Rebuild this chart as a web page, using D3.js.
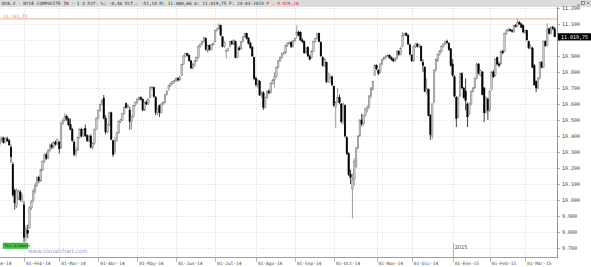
<!DOCTYPE html>
<html><head><meta charset="utf-8">
<script src="https://cdn.jsdelivr.net/npm/d3@7"></script>
<style>html,body{margin:0;padding:0;background:#fff;}svg{display:block;}</style>
</head><body>
<script>
// ---------- DATA ----------
// daily candles [open, high, low, close], 14-Jan-2014 .. 24-Mar-2015
const candles = [
[10350,10390,10340,10375],[10375,10398,10362,10388],[10388,10395,10352,10360],[10360,10392,10355,10382],
[10382,10396,10364,10370],[10370,10382,10338,10345],[10330,10345,10232,10270],[10222,10236,10020,10032],
[10060,10072,9940,9982],[9962,10072,9950,10058],[10012,10066,10000,10054],[10050,10062,9990,10002],
[10000,10040,9984,10024],[9970,9992,9737,9765],[9770,9842,9740,9822],[9812,9846,9762,9792],
[9830,9962,9820,9950],[9950,10002,9938,9990],[9995,10072,9984,10056],[10056,10110,10040,10092],
[10092,10148,10080,10140],[10140,10152,10105,10120],[10120,10196,10112,10188],[10188,10248,10180,10240],
[10240,10290,10230,10282],[10282,10296,10250,10262],[10262,10318,10255,10310],[10310,10352,10300,10345],
[10345,10358,10318,10330],[10330,10368,10322,10360],[10360,10372,10340,10350],[10350,10384,10344,10376],
[10362,10368,10290,10320],[10325,10492,10320,10480],[10480,10512,10468,10496],[10496,10542,10488,10522],
[10522,10534,10494,10506],[10506,10515,10462,10470],[10472,10510,10436,10442],[10440,10452,10364,10372],
[10362,10372,10275,10286],[10290,10332,10270,10312],[10312,10396,10305,10390],[10390,10448,10382,10440],
[10440,10452,10392,10400],[10400,10446,10392,10440],[10446,10472,10394,10402],[10402,10410,10362,10370],
[10370,10408,10360,10400],[10400,10410,10322,10330],[10330,10360,10314,10352],[10352,10446,10345,10440],
[10440,10516,10436,10510],[10510,10566,10504,10560],[10560,10604,10552,10598],[10598,10630,10590,10622],
[10637,10656,10505,10512],[10510,10530,10410,10425],[10425,10476,10418,10470],[10470,10552,10462,10545],
[10545,10552,10374,10380],[10370,10376,10269,10285],[10300,10392,10284,10372],[10372,10426,10364,10420],
[10420,10496,10414,10490],[10490,10508,10480,10500],[10500,10544,10494,10540],[10540,10586,10534,10580],
[10602,10610,10572,10578],[10578,10598,10570,10590],[10562,10584,10440,10492],[10492,10526,10440,10520],
[10520,10594,10514,10590],[10590,10616,10584,10610],[10610,10638,10600,10630],[10630,10646,10620,10640],
[10640,10648,10622,10630],[10630,10636,10556,10562],[10562,10614,10556,10610],[10610,10624,10594,10600],
[10600,10636,10594,10630],[10640,10710,10636,10702],[10702,10712,10690,10706],[10702,10708,10640,10646],
[10640,10650,10530,10546],[10546,10576,10530,10570],[10590,10596,10520,10546],[10546,10604,10540,10600],
[10600,10618,10592,10610],[10610,10664,10604,10660],[10660,10686,10652,10680],[10690,10718,10684,10714],
[10714,10734,10706,10730],[10730,10744,10720,10740],[10740,10752,10728,10746],[10746,10766,10736,10760],
[10760,10768,10740,10750],[10750,10776,10744,10770],[10780,10850,10774,10846],[10850,10906,10844,10900],
[10900,10922,10892,10915],[10915,10920,10896,10905],[10905,10910,10864,10870],[10870,10876,10818,10825],
[10825,10856,10816,10850],[10840,10876,10834,10870],[10870,10896,10862,10890],[10890,10966,10884,10960],
[10960,10980,10952,10975],[10975,10996,10968,10990],[10990,11020,10984,11015],[11010,11016,10934,10940],
[10930,10970,10922,10965],[10965,10972,10934,10940],[10940,10976,10932,10970],[10970,10986,10962,10980],
[10990,11064,10984,11060],[11060,11076,11052,11070],[11070,11104,11064,11095],[11090,11096,11026,11030],
[11020,11026,10954,10960],[10960,10992,10950,10985],[10930,10946,10884,10935],[10935,10952,10926,10945],
[10960,10994,10954,10990],[10990,10998,10968,10975],[10975,11004,10968,11000],[10990,10996,10886,10892],
[10892,10954,10884,10950],[10950,10962,10932,10940],[10945,10994,10938,10990],[10990,11024,10984,11020],
[11020,11044,11012,11040],[11040,11046,11004,11010],[11010,11018,10972,10980],[10980,10990,10944,10952],
[10952,10962,10894,10900],[10890,10896,10750,10760],[10760,10772,10708,10720],[10720,10756,10700,10750],
[10742,10750,10650,10656],[10656,10680,10640,10662],[10670,10680,10562,10580],[10580,10646,10572,10640],
[10640,10686,10632,10680],[10680,10692,10660,10670],[10670,10736,10664,10730],[10730,10756,10722,10750],
[10750,10798,10702,10770],[10770,10836,10764,10830],[10830,10876,10822,10870],[10870,10896,10862,10890],
[10890,10920,10882,10915],[10915,10930,10904,10920],[10920,10970,10912,10965],[10965,10986,10956,10980],
[10980,10992,10970,10985],[10985,10992,10950,10960],[10960,11000,10952,10995],[10995,11016,10986,11010],
[11030,11092,11008,11050],[11050,11058,11022,11030],[11048,11054,10994,11000],[11000,11010,10980,10990],
[10990,10996,10914,10920],[10920,10956,10910,10950],[10955,10962,10894,10900],[10900,10908,10872,10880],
[10890,10936,10882,10930],[10930,10994,10924,10990],[10990,11014,10982,11010],[11010,11044,11002,11040],
[11040,11046,10986,10990],[10985,10992,10896,10900],[10890,10898,10834,10840],[10840,10886,10830,10880],
[10860,10866,10730,10740],[10740,10796,10732,10790],[10762,10782,10730,10768],[10770,10778,10712,10720],
[10710,10716,10584,10590],[10580,10618,10450,10610],[10615,10700,10606,10640],[10640,10660,10598,10610],
[10600,10606,10478,10490],[10490,10610,10470,10600],[10590,10598,10390,10400],[10390,10398,10282,10290],
[10290,10298,10150,10160],[10160,10190,10100,10140],[10070,10166,9886,10125],[10130,10262,10090,10240],
[10210,10330,10200,10325],[10325,10406,10316,10400],[10400,10506,10394,10500],[10500,10540,10460,10475],
[10475,10534,10466,10530],[10530,10574,10522,10570],[10560,10592,10548,10580],[10580,10656,10572,10650],
[10650,10706,10636,10700],[10690,10746,10682,10740],[10780,10850,10774,10840],[10840,10848,10812,10820],
[10810,10818,10780,10790],[10800,10856,10792,10850],[10850,10884,10842,10880],[10880,10896,10872,10890],
[10890,10906,10880,10900],[10900,10912,10892,10905],[10905,10910,10882,10890],[10890,10898,10870,10880],
[10880,10888,10862,10870],[10870,10890,10862,10885],[10885,10936,10878,10930],[10930,10936,10902,10910],
[10910,10956,10904,10950],[10960,11050,10954,11030],[11030,11046,11022,11040],[11040,11048,11024,11030],
[11030,11036,10968,10975],[10970,10976,10904,10910],[10905,10912,10862,10870],[10870,10966,10864,10960],
[10960,10980,10950,10975],[10975,10982,10952,10960],[10960,10976,10950,10970],[10960,10966,10864,10870],
[10860,10880,10800,10840],[10830,10836,10674,10680],[10680,10760,10660,10700],[10690,10696,10524,10530],
[10530,10536,10375,10410],[10400,10606,10380,10600],[10610,10816,10604,10810],[10810,10886,10804,10880],
[10870,10916,10862,10910],[10910,10936,10902,10930],[10930,10966,10922,10960],[10960,10980,10952,10975],
[10975,10996,10968,10990],[10990,11002,10976,10985],[10980,10986,10932,10940],[10945,10950,10834,10840],
[10850,10880,10770,10780],[10770,10780,10640,10650],[10640,10650,10456,10510],[10520,10646,10512,10640],
[10650,10796,10644,10790],[10790,10798,10694,10700],[10700,10706,10634,10640],[10680,10760,10560,10620],
[10600,10610,10456,10520],[10540,10610,10530,10600],[10600,10686,10592,10680],[10680,10706,10672,10700],
[10700,10766,10694,10760],[10760,10860,10754,10850],[10850,10856,10784,10790],[10780,10816,10772,10810],
[10800,10806,10654,10660],[10700,10706,10487,10545],[10550,10646,10540,10640],[10630,10640,10500,10560],
[10560,10686,10550,10680],[10690,10806,10684,10800],[10800,10812,10764,10770],[10780,10886,10772,10880],
[10890,10896,10842,10850],[10850,10862,10830,10840],[10850,10936,10842,10930],[10930,10940,10910,10920],
[10930,11046,10924,11040],[11040,11066,11032,11060],[11060,11074,11050,11065],[11065,11072,11052,11060],
[11060,11068,11046,11055],[11050,11096,11044,11090],[11090,11100,11078,11085],[11085,11131.72,11080,11110],
[11110,11118,11094,11100],[11100,11106,11074,11080],[11090,11096,11044,11050],[11045,11066,11038,11060],
[11060,11064,10996,11000],[10990,10996,10944,10950],[10950,10972,10942,10960],[10950,10956,10824,10830],
[10840,10850,10714,10720],[10740,10748,10675,10700],[10700,10766,10692,10760],[10760,10866,10754,10860],
[10860,10868,10822,10830],[10830,10996,10824,10990],[10990,10998,10958,10965],[10965,11105,10960,11070],
[11070,11076,11034,11040],[11040,11086,11034,11080],[11080,11090,11062,11070.89],[11070,11080.66,11019.75,11019.75]
];
// month labels and number of sessions per month (Jan-2014 .. Feb-2015); first 8 January sessions are off-chart
const monthLabels = ["01-Ene-14","01-Feb-14","01-Mar-14","01-Abr-14","01-May-14","01-Jun-14","01-Jul-14",
  "01-Ago-14","01-Sep-14","01-Oct-14","01-Nov-14","01-Dic-14","01-Ene-15","01-Feb-15","01-Mar-15"];
const monthSessions = [21,19,21,21,21,21,22,21,21,23,19,22,20,19];
const sessionsBeforeFirstCandle = 8;
const yTickValues = [9700,9800,9900,10000,10100,10200,10300,10400,10500,10600,10700,10800,10900,11000,11100,11200];
const maxLevel = 11131.72;
const lastClose = 11019.75;
const headerText = "NYA.X - NYSE COMPOSITE IN - 1 d Dif. %: -0,46 Dif.: -51,14 M: 11.080,66 m: 11.019,75 F: 24-03-2015 ";
const headerRed = "P : 9.929,28";
const yearLabel = "2015";
const yearMonthIndex = 12;

// ---------- CHART ----------
const W = 591, H = 267;
const plotL = 0, plotR = 557, plotT = 8, plotB = 257;
const svg = d3.select("body").append("svg").attr("width", W).attr("height", H)
  .style("font-family", "'DejaVu Sans Mono', monospace");
svg.append("rect").attr("width", W).attr("height", H).attr("fill", "#fff");

const loc = d3.formatLocale({decimal: ",", thousands: ".", grouping: [3], currency: ["", ""]});
const fmt0 = loc.format(",.0f"), fmt2 = loc.format(",.2f");

// month start session indices
const monthIdx = [];
let acc = -sessionsBeforeFirstCandle;
monthLabels.forEach((m, k) => { monthIdx.push(acc); if (k < monthSessions.length) acc += monthSessions[k]; });

const x = d3.scaleLinear().domain([monthIdx[1], monthIdx[14]]).range([24, 525]);
const step = x(1) - x(0);
const bw = step * 0.86;
const y = d3.scaleLinear().domain([9700, 11200]).range([248, 8]);

const defs = svg.append("defs");
defs.append("clipPath").attr("id", "plot").append("rect")
  .attr("x", plotL).attr("y", plotT).attr("width", plotR - plotL).attr("height", plotB - plotT);

// grid
const grid = svg.append("g").attr("stroke", "#c4c4c4").attr("stroke-width", 0.6).attr("stroke-dasharray", "1,1.6");
grid.selectAll("line.h").data(yTickValues).join("line").attr("class", "h")
  .attr("x1", plotL).attr("x2", plotR).attr("y1", d => Math.round(y(d)) + 0.5).attr("y2", d => Math.round(y(d)) + 0.5);
grid.selectAll("line.v").data(monthIdx.slice(1)).join("line").attr("class", "v")
  .attr("x1", d => Math.round(x(d)) + 0.5).attr("x2", d => Math.round(x(d)) + 0.5).attr("y1", plotT).attr("y2", plotB);

// header bar
svg.append("rect").attr("x", 0).attr("y", 0).attr("width", W).attr("height", 7).attr("fill", "#dcdcdc");
const ht = svg.append("text").attr("x", 2).attr("y", 5.3).attr("font-size", 4.45).attr("fill", "#333");
ht.append("tspan").text(headerText);
ht.append("tspan").attr("fill", "#e8262a").text(headerRed);
// window icons
const ic = svg.append("g").attr("stroke", "#555").attr("stroke-width", 0.6).attr("fill", "none");
ic.append("line").attr("x1", 577).attr("x2", 580).attr("y1", 5).attr("y2", 5);
ic.append("rect").attr("x", 581.5).attr("y", 1.5).attr("width", 3).attr("height", 3);
ic.append("path").attr("d", "M586.5,1.5L589.5,4.5M589.5,1.5L586.5,4.5");

// max level line
svg.append("line").attr("x1", plotL).attr("x2", plotR)
  .attr("y1", y(maxLevel)).attr("y2", y(maxLevel)).attr("stroke", "#f2a27e").attr("stroke-width", 0.9);
svg.append("text").attr("x", 3.5).attr("y", y(maxLevel) - 1.3).attr("font-size", 4.4).attr("fill", "#e8784a")
  .text(fmt2(maxLevel));

// candles
const cg = svg.append("g").attr("clip-path", "url(#plot)");
const up = d => d[3] >= d[0];
cg.selectAll("line.w").data(candles).join("line").attr("class", "w")
  .attr("x1", (d, i) => x(i)).attr("x2", (d, i) => x(i))
  .attr("y1", d => y(d[1])).attr("y2", d => y(d[2]))
  .attr("stroke", d => up(d) ? "#7a7a7a" : "#000").attr("stroke-width", 0.75);
cg.selectAll("rect.b").data(candles).join("rect").attr("class", "b")
  .attr("x", (d, i) => x(i) - bw / 2).attr("width", bw)
  .attr("y", d => y(Math.max(d[0], d[3])))
  .attr("height", d => Math.max(0.9, Math.abs(y(d[0]) - y(d[3]))))
  .attr("fill", d => up(d) ? "#c8c8c8" : "#000")
  .attr("stroke", d => up(d) ? "#6e6e6e" : "#000").attr("stroke-width", 0.4);

// right axis
svg.append("line").attr("x1", plotR + 0.5).attr("x2", plotR + 0.5).attr("y1", 7).attr("y2", plotB + 1)
  .attr("stroke", "#777").attr("stroke-width", 0.8);
const boxTop = y(lastClose) - 3.6, boxBot = y(lastClose) + 3.6;
const ya = svg.append("g");
ya.selectAll("line").data(yTickValues).join("line")
  .attr("x1", plotR + 0.5).attr("x2", plotR + 3).attr("y1", d => Math.round(y(d)) + 0.5).attr("y2", d => Math.round(y(d)) + 0.5)
  .attr("stroke", "#777").attr("stroke-width", 0.6);
ya.selectAll("text").data(yTickValues.filter(v => y(v) + 2.5 < boxTop || y(v) - 2.5 > boxBot)).join("text")
  .attr("x", 562).attr("y", d => y(d) + 1.8).attr("font-size", 5).attr("fill", "#444").text(d => fmt0(d));

// last value label
svg.append("rect").attr("x", plotR + 1).attr("y", boxTop).attr("width", W - plotR - 1).attr("height", boxBot - boxTop).attr("fill", "#000");
svg.append("text").attr("x", 561).attr("y", y(lastClose) + 1.8).attr("font-size", 5).attr("fill", "#fff").text(fmt2(lastClose));

// bottom axis
svg.append("line").attr("x1", 0).attr("x2", plotR + 1).attr("y1", plotB + 0.5).attr("y2", plotB + 0.5)
  .attr("stroke", "#888").attr("stroke-width", 0.8);
const xa = svg.append("g");
xa.selectAll("line").data(monthIdx).join("line")
  .attr("x1", d => Math.round(x(d)) + 0.5).attr("x2", d => Math.round(x(d)) + 0.5).attr("y1", plotB).attr("y2", plotB + 5)
  .attr("stroke", "#888").attr("stroke-width", 0.6);
xa.selectAll("text").data(monthLabels).join("text")
  .attr("x", (d, k) => x(monthIdx[k]) + 2).attr("y", 264.5).attr("font-size", 4.5).attr("fill", "#444").text(d => d);

// year marker
const yx = Math.round(x(monthIdx[yearMonthIndex])) + 0.5;
svg.append("line").attr("x1", yx).attr("x2", yx).attr("y1", 243).attr("y2", plotB).attr("stroke", "#888").attr("stroke-width", 0.6);
svg.append("text").attr("x", yx + 1.2).attr("y", 248.5).attr("font-size", 5).attr("font-family", "'DejaVu Sans', sans-serif").attr("fill", "#444").text(yearLabel);

// watermark and status box
svg.append("text").attr("x", 28).attr("y", 253).attr("font-size", 5.6).attr("font-family", "'DejaVu Sans', sans-serif")
  .attr("fill", "#9c9ce0").text("www.visualchart.com");
svg.append("rect").attr("x", 3).attr("y", 243).attr("width", 25).attr("height", 5.5).attr("fill", "#39c739").attr("stroke", "#2a9a2a").attr("stroke-width", 0.4);
svg.append("text").attr("x", 4.5).attr("y", 247.3).attr("font-size", 3.9).attr("fill", "#114411").text("Sin órdenes");
</script>
</body></html>
